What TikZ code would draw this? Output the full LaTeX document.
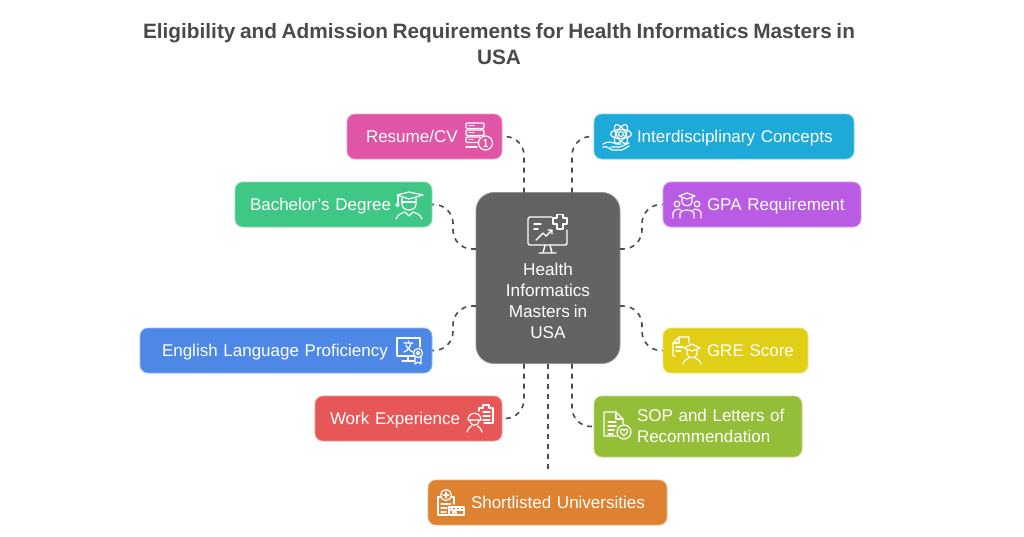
\documentclass[tikz,border=0pt]{standalone}
\usepackage{fontspec}
\setmainfont[WordSpace=0.8]{Liberation Sans}
\definecolor{pinkbox}{HTML}{E055A6}
\definecolor{cyanbox}{HTML}{1EAAD9}
\definecolor{purplebox}{HTML}{B95BE3}
\definecolor{greenbox}{HTML}{3FC785}
\definecolor{bluebox}{HTML}{4E88E6}
\definecolor{redbox}{HTML}{E85757}
\definecolor{limebox}{HTML}{94BD38}
\definecolor{yellowbox}{HTML}{E1CE17}
\definecolor{orangebox}{HTML}{DE8130}
\definecolor{hubgray}{HTML}{636363}
\definecolor{inkgray}{HTML}{4A4A4A}
\tikzset{
	box/.style n args={3}{draw=#1!60!white, line width=0.8pt, fill=#1, text=white, rounded corners=8pt, inner xsep=0pt, inner ysep=0pt, minimum height=45pt, text width=#2pt, align=left, font=\fontsize{17}{21}\selectfont, execute at begin node={\leftskip=#3pt\rule[-5pt]{0pt}{22pt}}},
	hubbox/.style={draw=hubgray!70!white, line width=0.8pt, fill=hubgray, text=white, rounded corners=18pt, minimum width=144pt, minimum height=171pt, align=center, font=\fontsize{17.2}{21}\selectfont},
	link/.style={draw=inkgray, line width=1.6pt, dash pattern=on 5pt off 5pt, rounded corners=19pt},
	ico/.style={draw=white, line width=1.2pt, line cap=round, line join=round},
}
\begin{document}
\begin{tikzpicture}[x=1pt, y=-1pt]
	\useasboundingbox (0, 0) rectangle (1024, 536);
	%%%%% START %%%%%
	\node[text=inkgray, align=center, font=\fontsize{20.8}{26}\selectfont\bfseries] (title) at (499, 44) {Eligibility and Admission Requirements for Health Informatics Masters in\\USA};

	\node[hubbox] (hub) at (548, 278) {~\\[38pt]Health\\Informatics\\Masters in\\USA};

	\node[box={pinkbox}{155}{19}] (resume) at (424.5, 136.5) {Resume/CV};
	\node[box={cyanbox}{260}{43}] (concepts) at (724, 136.5) {Interdisciplinary Concepts};
	\node[box={greenbox}{197}{15}] (bachelor) at (333.5, 204.5) {Bachelor's Degree};
	\node[box={purplebox}{198}{44}] (gpa) at (762, 204.5) {GPA Requirement};
	\node[box={bluebox}{292}{22}] (english) at (286, 350.5) {English Language Proficiency};
	\node[box={yellowbox}{145}{44}] (gre) at (735.5, 350.5) {GRE Score};
	\node[box={redbox}{187}{15}] (work) at (408.5, 418.5) {Work Experience};
	\node[box={limebox}{208}{43}, minimum height=61pt] (sop) at (698, 426.5) {SOP and Letters of\\Recommendation\rule[-7pt]{0pt}{1pt}};
	\node[box={orangebox}{239}{43}] (shortlist) at (547.5, 502.5) {Shortlisted Universities};

	% ports on the hub
	\coordinate (topa) at (524, 192.5);
	\coordinate (topb) at (572, 192.5);
	\coordinate (lefta) at (476, 249);
	\coordinate (leftb) at (476, 306);
	\coordinate (righta) at (620, 249);
	\coordinate (rightb) at (620, 306);
	\coordinate (bota) at (524, 363.5);
	\coordinate (botb) at (548, 363.5);
	\coordinate (botc) at (572, 363.5);
	\coordinate (bachelormid) at (453, 204.5);
	\coordinate (englishmid) at (453, 350.5);
	\coordinate (gpamid) at (642, 204.5);
	\coordinate (gremid) at (642, 350.5);
	\coordinate (shortlisttop) at (548, 473);

	\draw[link] (topa) |- (resume.east);
	\draw[link] (topb) |- (concepts.west);
	\draw[link] (lefta) -| (bachelormid) -- (bachelor.east);
	\draw[link] (leftb) -| (englishmid) -- (english.east);
	\draw[link] (righta) -| (gpamid) -- (gpa.west);
	\draw[link] (rightb) -| (gremid) -- (gre.west);
	\draw[link] (bota) |- (work.east);
	\draw[link] (botc) |- (sop.west);
	\draw[link] (botb) -- (shortlisttop);

	% hub icon
	\begin{scope}[shift={(528, 213)}, ico, line width=1.4pt]
		\draw[rounded corners=2pt] (24, 4) -- (0, 4) -- (0, 32) -- (39, 32) -- (39, 17);
		\draw (29, 1.5) -- (35, 1.5) -- (35, 5) -- (39, 5) -- (39, 11) -- (35, 11) -- (35, 16) -- (29, 16) -- (29, 11) -- (25, 11) -- (25, 5) -- (29, 5) -- cycle;
		\draw (6, 11) -- (13, 11) (6, 16) -- (10, 16);
		\draw (8, 27) -- (15, 20) -- (18, 23) -- (24, 17) (20, 17) -- (24, 17) -- (24, 21);
		\draw (17, 32) -- (15, 40) (22, 32) -- (24, 40) (11, 40) -- (28, 40);
	\end{scope}

	% stack with a badge
	\begin{scope}[shift={(466, 123)}, ico]
		\draw[rounded corners=1pt] (0, 0) rectangle (18, 5.5);
		\draw[rounded corners=1pt] (0, 7) rectangle (18, 12.5);
		\draw[rounded corners=1pt] (12, 19.5) -- (0, 19.5) -- (0, 14) -- (14, 14);
		\draw (3, 2.7) -- (8, 2.7) (3, 9.7) -- (8, 9.7) (3, 16.7) -- (7, 16.7) (0, 24) -- (11, 24);
		\draw (19.5, 20) circle (7);
		\draw (18, 17.5) -- (19.7, 16.5) -- (19.7, 23.5) (18, 23.5) -- (21.5, 23.5);
	\end{scope}

	% atom over a hand
	\begin{scope}[shift={(603, 123)}, ico]
		\draw (18, 11) circle (2.5);
		\draw (18, 11) ellipse [x radius=10.5, y radius=4.5, rotate=0];
		\draw (18, 11) ellipse [x radius=10.5, y radius=4.5, rotate=60];
		\draw (18, 11) ellipse [x radius=10.5, y radius=4.5, rotate=-60];
		\draw (0, 21) .. controls (5, 18) and (9, 19) .. (13, 21) -- (18, 21) (8, 24) -- (17, 24) -- (26, 20);
		\draw (0, 24) .. controls (4, 23) and (6, 25) .. (9, 27) -- (19, 27) -- (26, 23);
	\end{scope}

	% graduate
	\begin{scope}[shift={(395, 192)}, ico]
		\draw (2, 3) -- (14, 0) -- (28, 3) -- (14, 7) -- cycle;
		\draw (3, 3) -- (3, 11);
		\draw (2.5, 13) circle (1.6);
		\draw (7, 6) -- (7, 12) .. controls (7, 20) and (21, 20) .. (21, 12) -- (21, 6);
		\draw (7, 10) -- (21, 10);
		\draw (1, 27) .. controls (3, 22) and (7, 21) .. (10, 20) -- (14, 24) -- (18, 20) .. controls (21, 21) and (25, 22) .. (27, 27);
	\end{scope}

	% students with a cap
	\begin{scope}[shift={(673, 192)}, ico]
		\draw (6, 4) -- (14, 1) -- (22, 4) -- (14, 7) -- cycle;
		\draw (9, 6) -- (9, 10) .. controls (9, 15) and (19, 15) .. (19, 10) -- (19, 6);
		\draw (4, 12) circle (2.8);
		\draw (24, 12) circle (2.8);
		\draw (0, 26) -- (0, 21) .. controls (0, 18) and (6, 16) .. (8, 18);
		\draw (28, 26) -- (28, 21) .. controls (28, 18) and (22, 16) .. (20, 18);
		\draw (7, 26) -- (7, 21) .. controls (8, 17) and (20, 17) .. (21, 21) -- (21, 26);
	\end{scope}

	% screen with a letter and a ribbon
	\begin{scope}[shift={(396, 337)}, ico]
		\draw (18, 19) -- (1, 19) -- (1, 1) -- (24, 1) -- (24, 10);
		\draw (8, 6) -- (17, 6) (12.5, 4) -- (12.5, 6) (15, 6) .. controls (14, 11) and (11, 14) .. (8, 15) (10, 8) .. controls (11, 11) and (14, 14) .. (17, 15);
		\draw (12, 19) -- (12, 24) (6, 24) -- (18, 24);
		\draw (22, 16) circle (4.5);
		\draw (22, 16) circle (1.8);
		\draw (19, 20) -- (19, 27) -- (22, 25) -- (25, 27) -- (25, 20);
	\end{scope}

	% document with a cap
	\begin{scope}[shift={(673, 337)}, ico]
		\draw (2, 19) -- (0, 19) -- (0, 6) -- (6, 0) -- (16, 0) -- (16, 6);
		\draw (6, 0) -- (6, 6) -- (0, 6);
		\draw (3, 10) -- (10, 10) (3, 14) -- (8, 14);
		\draw (11, 11) -- (19, 7) -- (27, 11) -- (19, 14) -- cycle;
		\draw (14, 13) -- (14, 17) .. controls (14, 22) and (24, 22) .. (24, 17) -- (24, 13);
		\draw (10, 27) .. controls (11, 23) and (14, 22) .. (16, 21) (28, 27) .. controls (27, 23) and (24, 22) .. (22, 21);
	\end{scope}

	% worker with a clipboard
	\begin{scope}[shift={(466, 405)}, ico]
		\draw (13, 6) -- (13, 3) -- (17, 3) -- (17, 0) -- (23, 0) -- (23, 3) -- (27, 3) -- (27, 18) -- (18, 18);
		\draw (17, 7) -- (24, 7) (17, 11) -- (24, 11) (17, 15) -- (24, 15);
		\draw (2, 15) .. controls (2, 6) and (15, 6) .. (15, 15) -- cycle;
		\draw (4, 15) .. controls (4, 22) and (13, 22) .. (13, 15);
		\draw (1, 27) .. controls (2, 23) and (5, 21) .. (6, 21) (16, 27) .. controls (15, 23) and (12, 21) .. (11, 21);
	\end{scope}

	% document with a heart
	\begin{scope}[shift={(603, 412)}, ico]
		\draw (14, 24) -- (1, 24) -- (1, 0) -- (13, 0) -- (20, 7) -- (20, 12);
		\draw (13, 0) -- (13, 7) -- (20, 7);
		\draw (5, 10) -- (13, 10) (5, 14) -- (13, 14) (5, 18) -- (11, 18) (5, 22) -- (10, 22);
		\draw (21, 20) circle (7);
		\draw (21, 24) -- (17.5, 20) .. controls (16.5, 17) and (20, 16) .. (21, 18.5) .. controls (22, 16) and (25.5, 17) .. (24.5, 20) -- cycle;
	\end{scope}

	% clipboard with a building
	\begin{scope}[shift={(437, 489)}, ico]
		\draw (9, 6) circle (5.5);
		\draw (6, 6) -- (12, 6) (9, 3) -- (9, 9);
		\draw (4, 8) -- (1, 8) -- (1, 26) -- (11, 26) (14, 8) -- (17, 8) -- (17, 15);
		\draw (4, 15) -- (14, 15) (4, 19) -- (10, 19) (4, 23) -- (9, 23);
		\draw (12, 18) -- (27, 18) -- (27, 26) -- (12, 26) -- cycle;
		\draw (12, 21) -- (27, 21) (15, 18) -- (15, 21) (19, 18) -- (19, 21) (23, 18) -- (23, 21) (16, 26) -- (16, 23) -- (19, 23) -- (19, 26);
	\end{scope}
	%%%%% END %%%%%
\end{tikzpicture}
\end{document}
